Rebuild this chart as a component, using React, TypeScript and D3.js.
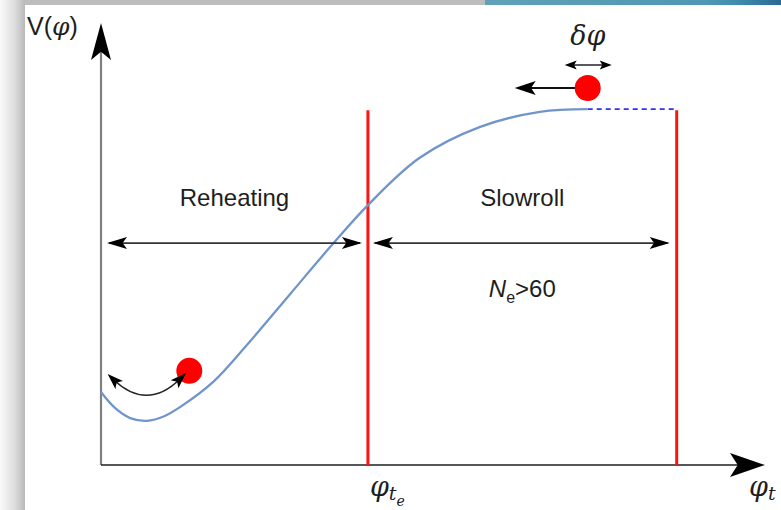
import React, { useEffect } from 'react';
import * as d3 from 'd3';

// potential curve V(phi)
const curvePhi = [0, 2.1, 4.4, 6.9, 9.6, 11.9, 16.9, 22.0, 28.5, 34.5, 40.2, 48.0, 57.1, 66.1, 73.3];
const curveV = [16.5, 12.9, 10.6, 10.0, 11.1, 13.1, 18.8, 27.2, 38.7, 49.3, 58.8, 69.5, 76.5, 79.9, 80.5];

const phiTe = 40.2;      // end of reheating / red line
const phiEnd = 86.7;     // start of slow roll
const plateauV = 80.5;
const regionV = 50.2;    // height of the region arrows
const regionLabelV = 58.5;
const efoldLabelV = 38.0;

const topBall = { phi: 73.3, V: 85.3 };
const topPushTo = 62.3;
const bottomBall = { phi: 13.3, V: 21.3 };
const swingFrom = { phi: 1.0, V: 20.6 };
const swingTo = { phi: 12.8, V: 20.8 };

const W = 781;
const H = 510;

const x = d3.scaleLinear().domain([0, 100]).range([101, 765]);
const y = d3.scaleLinear().domain([0, 100]).range([465, 23]);

const ink = '#1e1e1e';
const textFont = 'Arial, "Liberation Sans", sans-serif';
const mathFont = '"DejaVu Serif", serif';

// notched arrow head with the tip at (tx,ty) pointing along angle (radians)
const head = (tx: number, ty: number, ang: number, len: number, half: number, key: string) => {
  const deg = (ang * 180) / Math.PI;
  const d = `M0,0 L${-len},${-half} L${-len * 0.78},0 L${-len},${half} Z`;
  return <path key={key} d={d} fill="#000" transform={`translate(${tx},${ty}) rotate(${deg})`} />;
};

const App = () => {
  useEffect(() => {
    document.body.style.margin = '0';
  }, []);

  const line = d3
    .line<number>()
    .x((_, i) => x(curvePhi[i]))
    .y((d) => y(d))
    .curve(d3.curveCatmullRom.alpha(0.5));

  const x0 = x(0);
  const yAxisBottom = y(0);
  const rowY = y(regionV);

  // swinging arrow at the bottom
  const sx0 = x(swingFrom.phi), sy0 = y(swingFrom.V);
  const sx1 = x(swingTo.phi), sy1 = y(swingTo.V);
  const cx = (sx0 + sx1) / 2, cy = (sy0 + sy1) / 2 + 38;
  const a0 = Math.atan2(sy0 - cy, sx0 - cx);
  const a1 = Math.atan2(sy1 - cy, sx1 - cx);
  // pull the line ends back a little so they sit inside the heads
  const p0x = sx0 - 8 * Math.cos(a0), p0y = sy0 - 8 * Math.sin(a0);
  const p1x = sx1 - 8 * Math.cos(a1), p1y = sy1 - 8 * Math.sin(a1);

  const bx = x(topBall.phi), by = y(topBall.V);

  return (
    <svg width={W} height={H} style={{ position: 'absolute', left: 0, top: 0, background: '#fff' }}>
      <defs>
        <linearGradient id="leftShade" x1="0" x2="1" y1="0" y2="0">
          <stop offset="0" stopColor="#fafafa" />
          <stop offset="0.6" stopColor="#dcdcdc" />
          <stop offset="1" stopColor="#b9b9b9" />
        </linearGradient>
        <linearGradient id="topBand" x1="0" x2="1" y1="0" y2="0">
          <stop offset="0" stopColor="#5fa2b8" />
          <stop offset="0.75" stopColor="#4f97b3" />
          <stop offset="0.85" stopColor="#3f8db0" />
          <stop offset="1" stopColor="#2a6a93" />
        </linearGradient>
      </defs>

      {/* window frame */}
      <rect x={25} y={0} width={460} height={5} fill="#bdbdbd" />
      <rect x={485} y={0} width={W - 485} height={5} fill="url(#topBand)" />
      <rect x={0} y={0} width={25} height={H} fill="url(#leftShade)" />

      {/* axes */}
      <line x1={x0} x2={x0} y1={yAxisBottom} y2={50} stroke="#808080" strokeWidth={2.2} />
      {head(x0, 23, -Math.PI / 2, 37, 10, 'ya')}
      <line x1={x0} x2={740} y1={yAxisBottom} y2={yAxisBottom} stroke={ink} strokeWidth={1.6} />
      {head(765, yAxisBottom, 0, 35, 12, 'xa')}

      {/* dashed plateau continuation */}
      <line x1={x(topBall.phi)} x2={x(phiEnd)} y1={y(plateauV)} y2={y(plateauV)}
        stroke="#2f2fff" strokeWidth={1.7} strokeDasharray="5,4" />

      {/* red boundaries */}
      {[phiTe, phiEnd].map((p, i) => (
        <line key={i} x1={x(p)} x2={x(p)} y1={y(plateauV) + 1} y2={yAxisBottom}
          stroke="#ff1414" strokeWidth={3} />
      ))}

      {/* potential */}
      <path d={line(curveV) || ''} fill="none" stroke="#7095cb" strokeWidth={2.3} />

      {/* region arrows */}
      <line x1={x0 + 8} x2={x(phiTe) - 8} y1={rowY} y2={rowY} stroke="#333" strokeWidth={1.6} />
      {head(x0 + 6, rowY, Math.PI, 20, 6, 'r1')}
      {head(x(phiTe) - 6, rowY, 0, 20, 6, 'r2')}
      <line x1={x(phiTe) + 7} x2={x(phiEnd) - 9} y1={rowY} y2={rowY} stroke="#333" strokeWidth={1.6} />
      {head(x(phiTe) + 5, rowY, Math.PI, 20, 6, 's1')}
      {head(x(phiEnd) - 7, rowY, 0, 20, 6, 's2')}

      <text x={(x0 + x(phiTe)) / 2} y={y(regionLabelV)} textAnchor="middle" fontFamily={textFont}
        fontSize={24} fill={ink}>Reheating</text>
      <text x={(x(phiTe) + x(phiEnd)) / 2} y={y(regionLabelV)} textAnchor="middle" fontFamily={textFont}
        fontSize={24} fill={ink}>Slowroll</text>
      <text x={(x(phiTe) + x(phiEnd)) / 2} y={y(efoldLabelV)} textAnchor="middle" fontFamily={textFont}
        fontSize={24} fill={ink}>
        <tspan fontStyle="italic">N</tspan>
        <tspan fontSize={16} dy={6}>e</tspan>
        <tspan dy={-6}>&gt;60</tspan>
      </text>

      {/* top ball, push arrow and delta phi */}
      <line x1={bx} x2={x(topPushTo) + 16} y1={by} y2={by} stroke="#111" strokeWidth={2} />
      {head(x(topPushTo), by, Math.PI, 21, 7, 'push')}
      <circle cx={bx} cy={by} r={13} fill="#ff0000" />
      <line x1={bx - 18} x2={bx + 18} y1={65} y2={65} stroke="#222" strokeWidth={1.4} />
      {head(bx - 23, 65, Math.PI, 12, 4.5, 'd1')}
      {head(bx + 24, 65, 0, 12, 4.5, 'd2')}
      <text x={bx} y={45} textAnchor="middle" fontFamily={mathFont} fontStyle="italic" fontSize={27} fill={ink}>δφ</text>

      {/* bottom ball and swing */}
      <circle cx={x(bottomBall.phi)} cy={y(bottomBall.V)} r={13} fill="#ff0000" />
      <path d={`M${p0x},${p0y} Q${cx},${cy} ${p1x},${p1y}`}
        fill="none" stroke="#222" strokeWidth={1.5} />
      {head(sx0, sy0, a0, 16, 5.5, 'w1')}
      {head(sx1, sy1, a1, 16, 5.5, 'w2')}

      {/* axis labels */}
      <text x={27} y={35} fontFamily={textFont} fontSize={25} fill={ink}>
        V(<tspan fontFamily={mathFont} fontStyle="italic">φ</tspan>)
      </text>
      <text x={x(phiTe) + 2} y={496} fontFamily={mathFont} fontStyle="italic" fontSize={27} fill={ink}>
        φ<tspan fontSize={19} dy={4}>t</tspan><tspan fontSize={14} dy={6}>e</tspan>
      </text>
      <text x={749} y={496} fontFamily={mathFont} fontStyle="italic" fontSize={27} fill={ink}>
        φ<tspan fontSize={19} dy={4}>t</tspan>
      </text>
    </svg>
  );
};

export default App;
